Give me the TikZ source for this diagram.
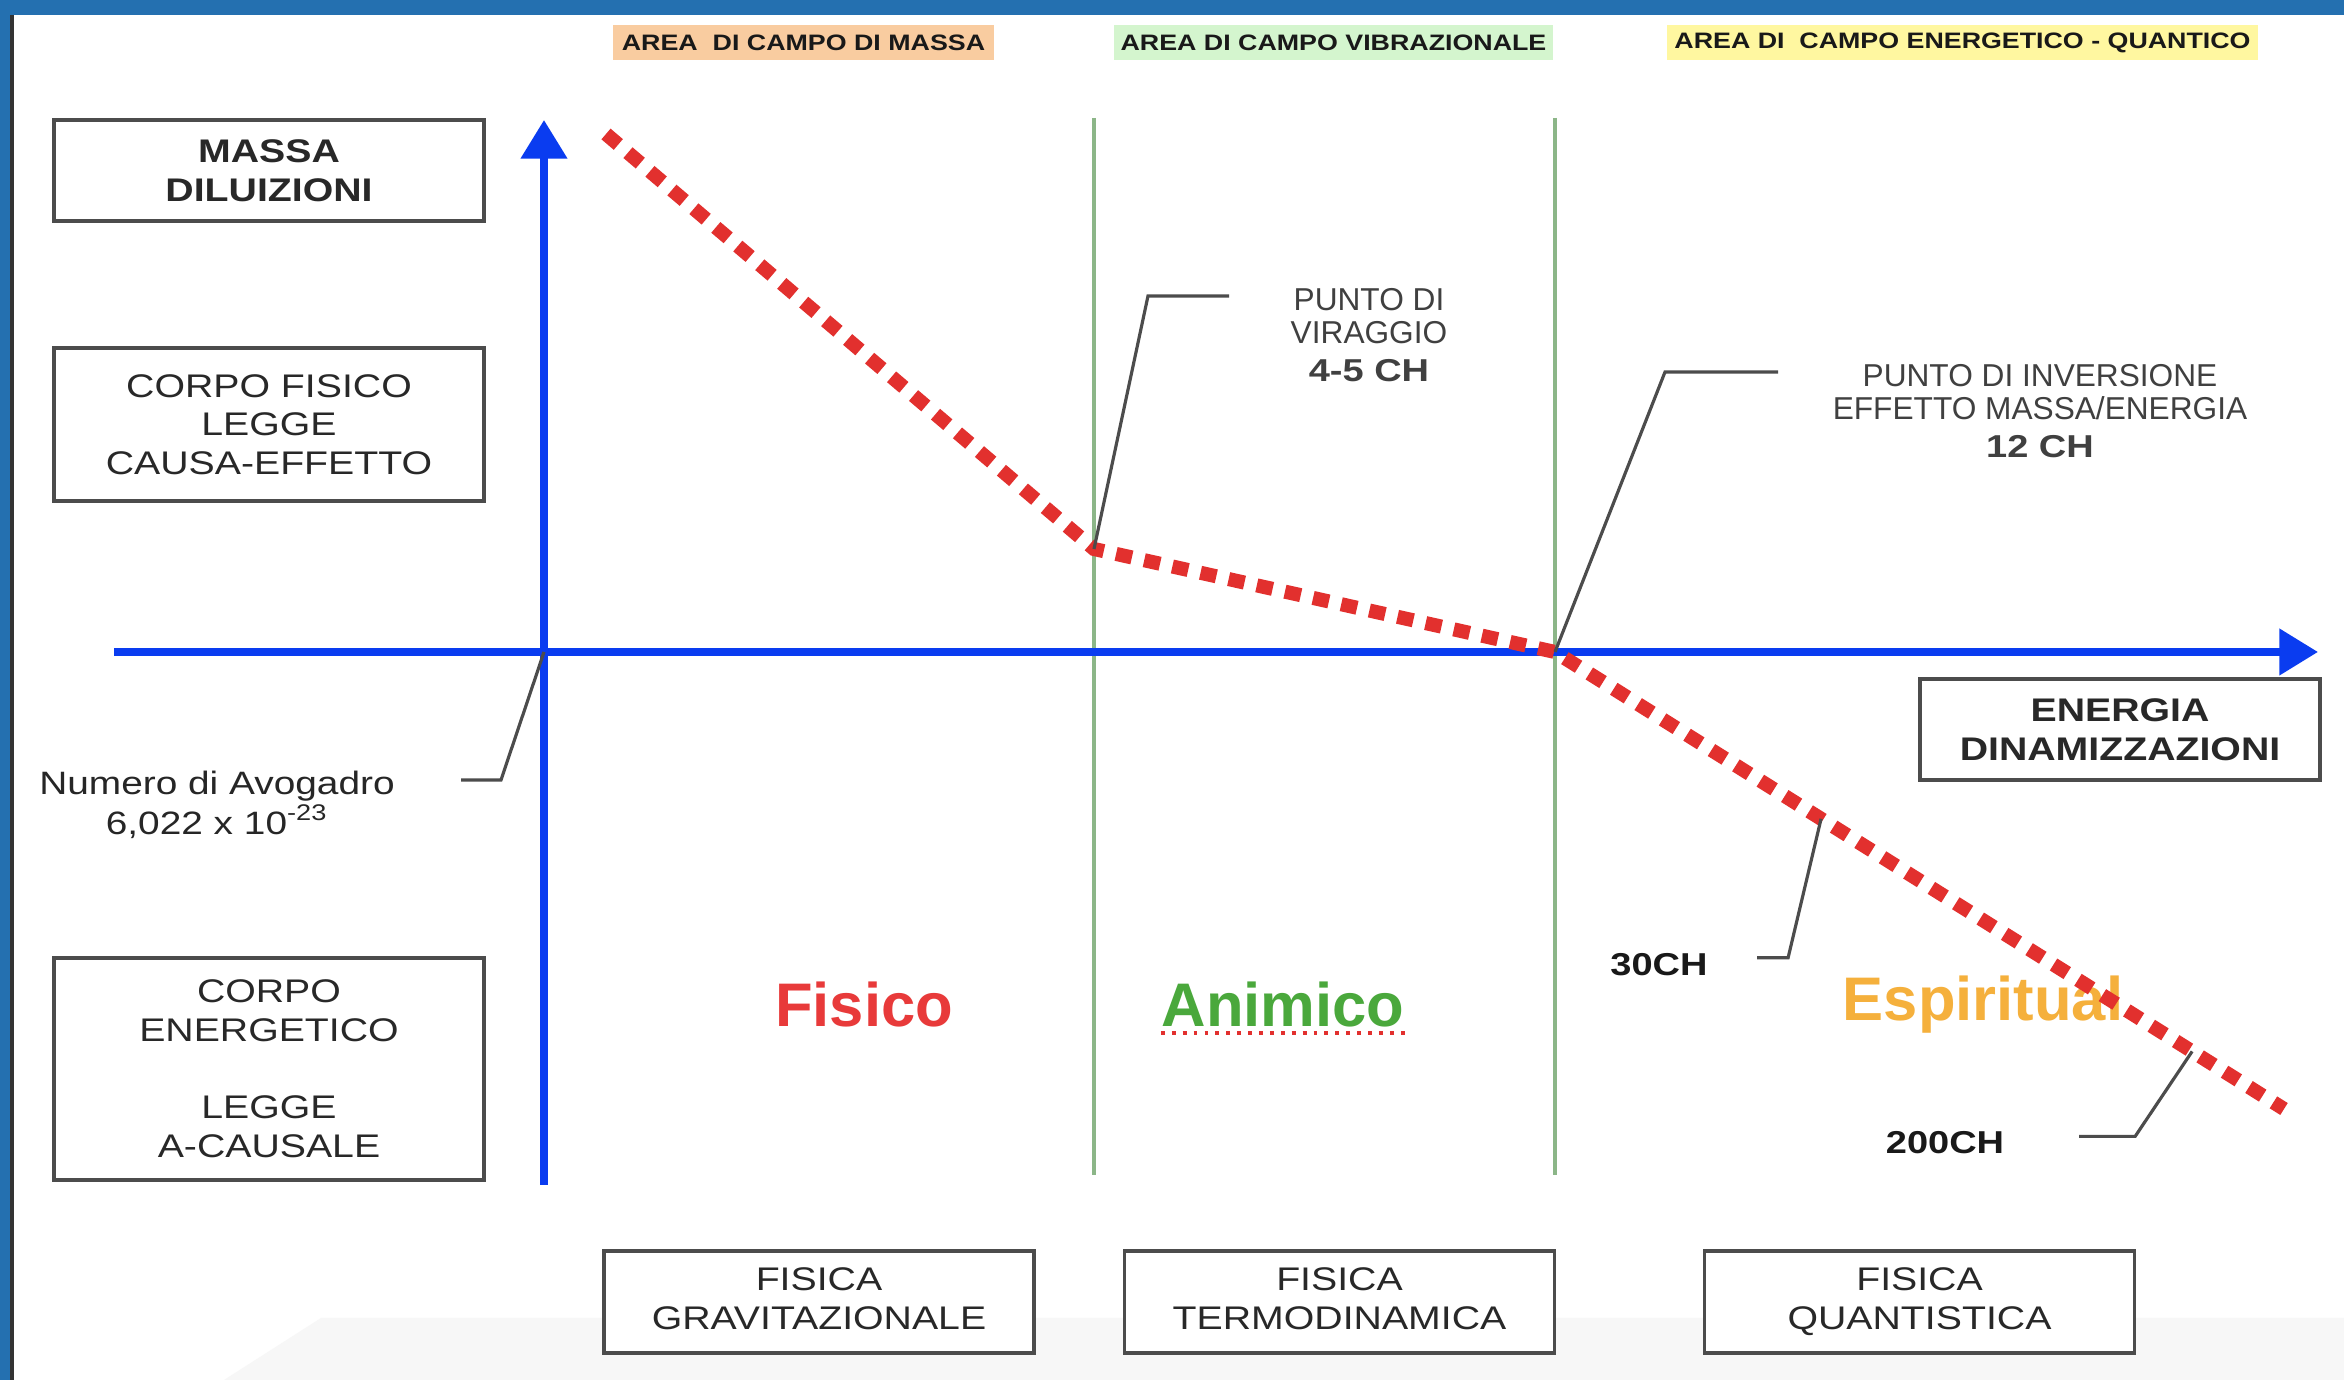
\documentclass[tikz,border=0pt]{standalone}
\usepackage{fontspec}
\setmainfont[FakeStretch=1.2]{Liberation Sans}
\newfontfamily\plainfont{Liberation Sans}
\usepackage{tikz}
\usetikzlibrary{arrows.meta}
\definecolor{fondo}{RGB}{36,112,176}
\definecolor{bluasse}{RGB}{10,60,240}
\definecolor{rosso}{RGB}{226,48,46}
\definecolor{verde}{RGB}{140,182,136}
\definecolor{pesca}{RGB}{249,204,160}
\definecolor{menta}{RGB}{212,245,206}
\definecolor{giallo}{RGB}{255,247,160}
\definecolor{testo}{RGB}{40,40,40}
\definecolor{colfisico}{RGB}{232,58,58}
\definecolor{colanimico}{RGB}{74,168,60}
\definecolor{colspirito}{RGB}{245,176,60}
\newcommand{\fontriq}{\fontsize{9.3}{11}\selectfont}

\begin{document}
\begin{tikzpicture}[x=0.01cm, y=-0.01cm,
  riquadro/.style={draw=black!70, line width=1pt, fill=white, text=testo, align=center, minimum width=4.3cm, inner sep=0pt, font=\fontriq},
  riquadrob/.style={riquadro, font=\fontriq\bfseries},
  etichetta/.style={inner xsep=2pt, inner ysep=0pt, minimum height=0.35cm, text=black!90, font=\fontsize{6.35}{7}\selectfont\bfseries},
  freccia/.style={draw=bluasse, line width=2.2pt, -{Triangle[width=12.8pt,length=11pt]}},
  divisore/.style={draw=verde, line width=1pt},
  curva/.style={draw=rosso, line width=4pt, dash pattern=on 4.6pt off 3.6pt},
  richiamo/.style={draw=black!70, line width=0.9pt},
  nota/.style={align=center, inner sep=0pt, text=black!75, font=\plainfont\fontsize{9}{9.4}\selectfont},
  valore/.style={inner sep=0pt, text=black!90, font=\fontsize{9}{11}\selectfont\bfseries},
  parola/.style={inner sep=0pt, font=\plainfont\fontsize{17.5}{20}\selectfont\bfseries}]

  \useasboundingbox (0,0) rectangle (2344,1380);
  \fill [fondo] (0,0) rectangle (2344,1380); % cornice
  \fill [white] (12,15) rectangle (2344,1380);
  \draw [black!80, line width=1pt] (12,15) -- (12,1380);
  \fill [black!3] (321,1318) -- (2344,1318) -- (2344,1380) -- (224,1380) -- cycle;

  % intestazioni
  \node [etichetta, fill=pesca, minimum width=3.81cm] (hmassa) at (803.5,42.5) {AREA\ \ DI CAMPO DI MASSA};
  \node [etichetta, fill=menta, minimum width=4.31cm] (hvibra) at (1333.5,42.5) {AREA DI CAMPO VIBRAZIONALE};
  \node [etichetta, fill=giallo, minimum width=5.83cm] (hquanto) at (1962.5,42.5) {AREA DI\ \ CAMPO ENERGETICO - QUANTICO};

  % riquadri a sinistra
  \node [riquadrob, minimum height=1.01cm] (massa) at (269,170.5) {MASSA\\DILUIZIONI};
  \node [riquadro, minimum height=1.53cm] (corpofisico) at (269,424.5) {CORPO FISICO\\LEGGE\\CAUSA-EFFETTO};
  \node [riquadro, minimum height=2.22cm] (corpoenergetico) at (269,1069) {CORPO\\ENERGETICO\\[11pt]LEGGE\\A-CAUSALE};
  \node [riquadrob, minimum width=4cm, minimum height=1.01cm] (energia) at (2120,729.5) {ENERGIA\\DINAMIZZAZIONI};

  % riquadri in basso
  \node [riquadro, minimum height=1.02cm] (gravita) at (819,1302) {FISICA\\GRAVITAZIONALE\vphantom{Q}};
  \node [riquadro, minimum height=1.02cm] (termo) at (1339.5,1302) {FISICA\\TERMODINAMICA\vphantom{Q}};
  \node [riquadro, minimum height=1.02cm] (quanto) at (1919.5,1302) {FISICA\\QUANTISTICA};

  \draw [divisore] (1094,118) -- (1094,1175);
  \draw [divisore] (1555,118) -- (1555,1175);

  \draw [freccia] (544,1185) -- (544,120); % asse verticale
  \draw [freccia] (114,652) -- (2318,652); % asse orizzontale

  \coordinate (o) at (544,652);
  \coordinate (inizio) at (606,134);
  \coordinate (viraggio) at (1094,549);
  \coordinate (inversione) at (1555,652);
  \coordinate (fine) at (2284,1109);

  \node [parola, text=colfisico] (fisico) at (864,1005) {Fisico};
  \node [parola, text=colanimico] (animico) at (1283,1005) {Animico};
  \node [parola, text=colspirito] (spirito) at (1983,1005) {Espiritual};
  \draw [rosso, dotted, line width=1.1pt] ([yshift=-1.8pt]animico.base west) -- ([yshift=-1.8pt]animico.base east);

  \draw [curva] (inizio) -- (viraggio) -- (inversione) -- (fine) coordinate [pos=0.365] (ch30) coordinate [pos=0.874] (ch200);

  % richiami
  \draw [richiamo] (viraggio) -- ++(54,-253) -- ++(81,0);
  \draw [richiamo] (inversione) -- ++(110,-280) -- ++(113,0);
  \draw [richiamo] (ch30) -- ++(-33,139) -- ++(-31,0);
  \draw [richiamo] (ch200) -- ++(-57,85) -- ++(-56,0);
  \draw [richiamo] (o) -- ++(-43,128) -- ++(-40,0);

  \node [nota] (tviraggio) at (1369,335) {PUNTO DI\\VIRAGGIO\\[1.6pt]{\normalfont\bfseries\fontsize{9}{11}\selectfont 4-5 CH}};
  \node [nota] (tinversione) at (2040,411) {PUNTO DI INVERSIONE\\EFFETTO MASSA/ENERGIA\\[1.6pt]{\normalfont\bfseries\fontsize{9}{11}\selectfont 12 CH}};
  \node [nota, text=black!85, font=\fontsize{9.2}{10.2}\selectfont] (avogadro) at (217,805) {Numero di Avogadro\\6,022 x 10\textsuperscript{-23}};
  \node [valore] (t30) at (1659,965) {30CH};
  \node [valore] (t200) at (1945,1143) {200CH};
\end{tikzpicture}
\end{document}
